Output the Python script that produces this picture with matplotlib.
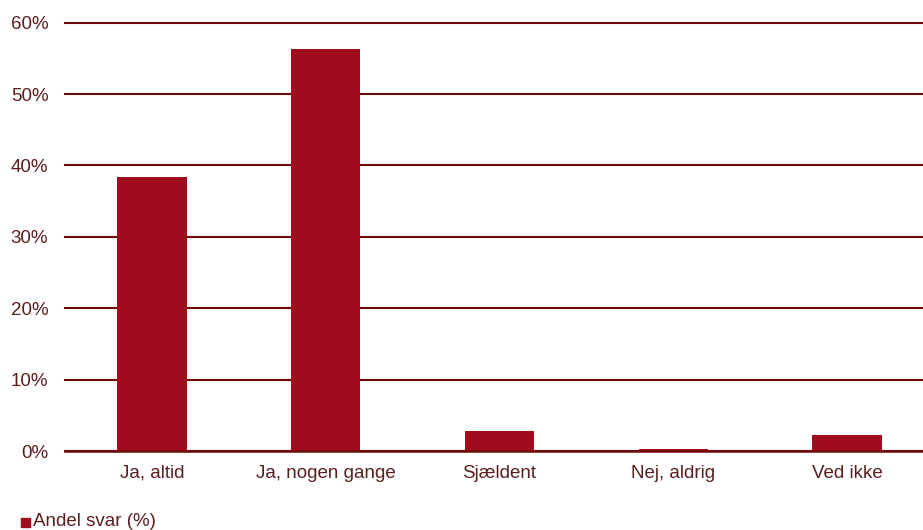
import matplotlib.pyplot as plt
import matplotlib.patches as mpatches

plt.rcParams['font.family'] = ['Liberation Sans', 'DejaVu Sans']

# survey answers
categories = ['Ja, altid', 'Ja, nogen gange', 'Sjældent', 'Nej, aldrig', 'Ved ikke']
share = [38.4, 56.3, 2.8, 0.3, 2.2]
yticks = [0, 10, 20, 30, 40, 50, 60]

bar_col = '#9e0c1e'
grid_col = '#6e0a0a'
txt_col = '#5a1e1e'

fig = plt.figure(figsize=(9.23, 5.30), dpi=100)
ax = fig.add_axes([65/923, 1 - 451/530, (923-65)/923, (451-22.7)/530])

ax.bar(range(len(categories)), share, width=0.4, color=bar_col, zorder=3)

ax.set_ylim(0, 60)
ax.set_xlim(-0.5, 4.5 - 11/174)
ax.set_yticks(yticks)
ax.set_yticklabels([f'{v}%' for v in yticks])
ax.set_xticks(range(len(categories)))
ax.set_xticklabels(categories)
ax.yaxis.grid(True, color=grid_col, linewidth=1.5, zorder=0)
for gl in ax.get_ygridlines():
    gl.set_clip_on(False)
ax.tick_params(axis='both', length=0, labelsize=13.5, labelcolor=txt_col)
ax.tick_params(axis='y', pad=12)
ax.tick_params(axis='x', pad=10)
for s in ['top', 'right', 'left']:
    ax.spines[s].set_visible(False)
ax.spines['bottom'].set_color(grid_col)
ax.spines['bottom'].set_linewidth(1.8)
ax.spines['bottom'].set_zorder(4)

# legend at the bottom left
fig.patches.append(mpatches.Rectangle((21/923, 1 - 527/530), 9/923, 9/530,
                                      transform=fig.transFigure, color=bar_col))
fig.text(33/923, 1 - 522/530, 'Andel svar (%)', fontsize=13.5, color=txt_col, va='center')

fig.savefig('out.png', dpi=100)
